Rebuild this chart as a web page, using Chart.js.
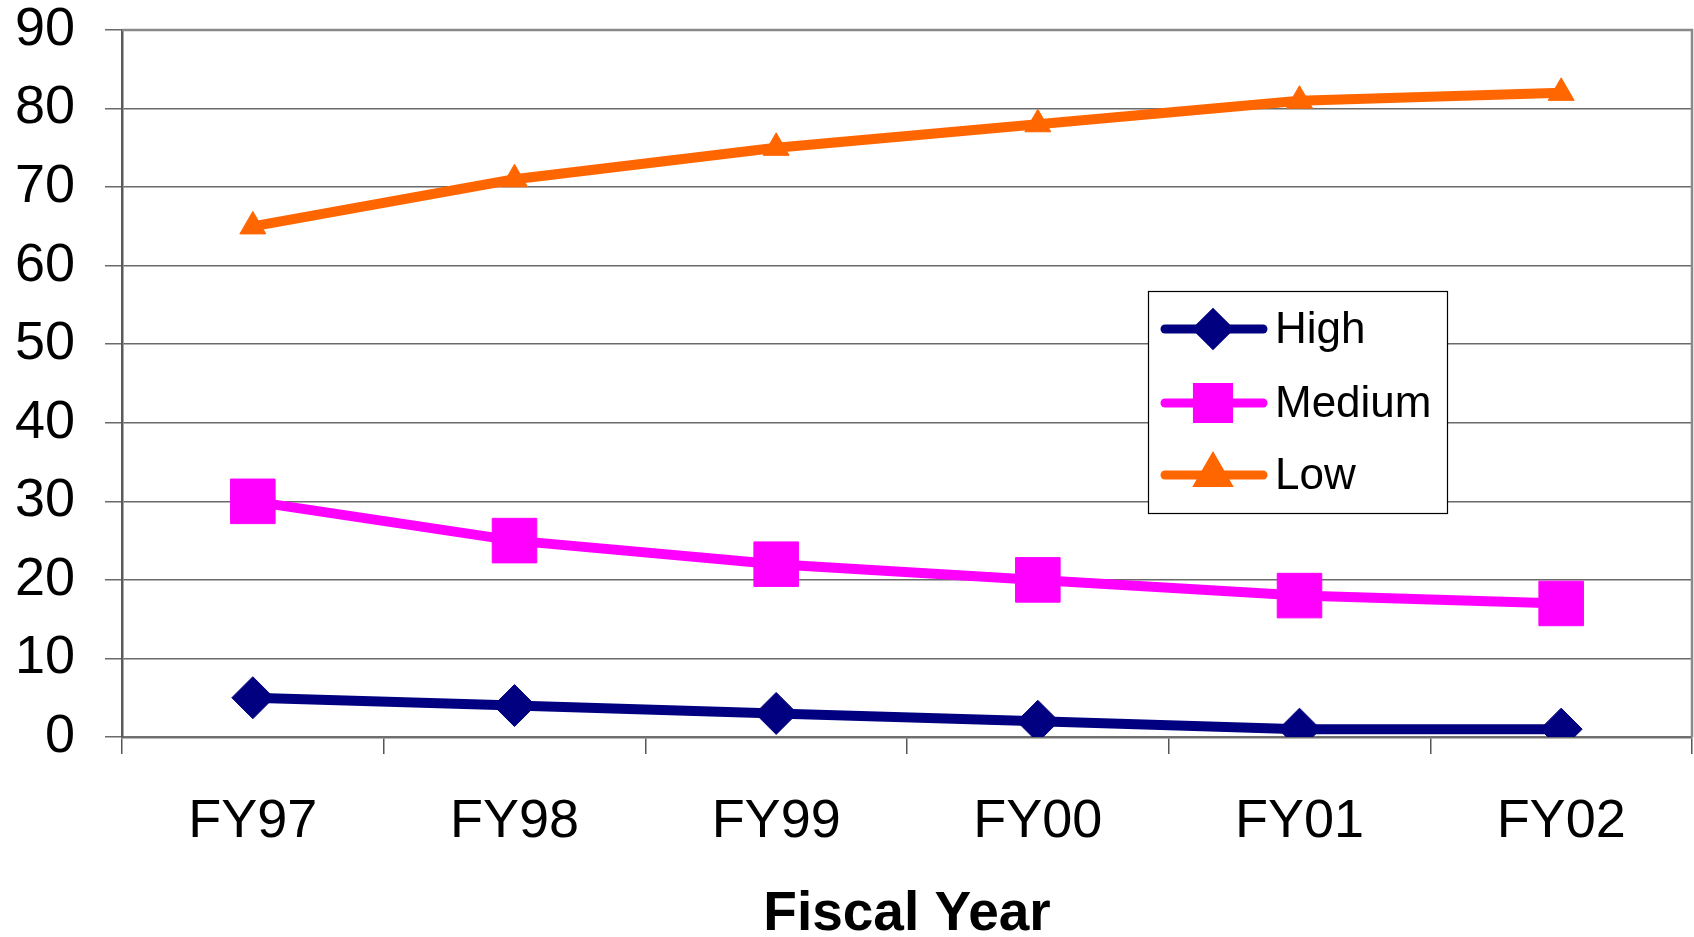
<!DOCTYPE html>
<html>
<head>
<meta charset="utf-8">
<script src="https://cdn.jsdelivr.net/npm/chart.js@4/dist/chart.umd.min.js"></script>
<style>
  html, body { margin: 0; padding: 0; background: #fff; }
  #wrap { width: 1694px; height: 937px; }
</style>
</head>
<body>
<div id="wrap"><canvas id="c" width="1694" height="937"></canvas></div>
<script>
const categories = ['FY97', 'FY98', 'FY99', 'FY00', 'FY01', 'FY02'];
const highValues = [5, 4, 3, 2, 1, 1];
const mediumValues = [30, 25, 22, 20, 18, 17];
const lowValues = [65, 71, 75, 78, 81, 82];
const seriesNames = ['High', 'Medium', 'Low'];
const yTicks = [0, 10, 20, 30, 40, 50, 60, 70, 80, 90];
const xTitle = 'Fiscal Year';

const FONT = "'Liberation Sans', Arial, sans-serif";
const legendMarkerRadius = [15, 22, 15];

const legendPlugin = {
  id: 'boxLegend',
  afterDatasetsDraw(chart) {
    const ctx = chart.ctx;
    const x0 = 1148, y0 = 291, w = 299, h = 222;
    ctx.save();
    ctx.fillStyle = '#ffffff';
    ctx.fillRect(x0, y0, w, h);
    ctx.strokeStyle = '#000000';
    ctx.lineWidth = 1.2;
    ctx.strokeRect(x0 + 0.5, y0 + 0.5, w, h);
    const rows = [329, 403, 475];
    chart.data.datasets.forEach((ds, i) => {
      const y = rows[i];
      ctx.strokeStyle = ds.borderColor;
      ctx.lineWidth = 9;
      ctx.lineCap = 'round';
      ctx.beginPath();
      ctx.moveTo(1165, y);
      ctx.lineTo(1263, y);
      ctx.stroke();
      ctx.fillStyle = ds.pointBackgroundColor;
      ctx.strokeStyle = ds.pointBackgroundColor;
      Chart.helpers.drawPoint(ctx, {
        pointStyle: ds.pointStyle,
        radius: legendMarkerRadius[i],
        rotation: 0,
        borderWidth: 1
      }, 1213, y);
      ctx.fillStyle = '#000000';
      ctx.font = '44px ' + FONT;
      ctx.textBaseline = 'middle';
      ctx.textAlign = 'left';
      ctx.fillText(ds.label, 1275, y + 2);
    });
    ctx.restore();
  }
};

const borderPlugin = {
  id: 'plotBorder',
  beforeDatasetsDraw(chart) {
    const {ctx, chartArea: a} = chart;
    ctx.save();
    ctx.strokeStyle = '#8a8a8a';
    ctx.lineWidth = 2.5;
    ctx.beginPath();
    ctx.moveTo(a.left, a.top);
    ctx.lineTo(a.right, a.top);
    ctx.lineTo(a.right, a.bottom);
    ctx.stroke();
    ctx.restore();
  }
};

new Chart(document.getElementById('c'), {
  type: 'line',
  data: {
    labels: categories,
    datasets: [
      {
        label: seriesNames[0], data: highValues,
        borderColor: '#000080', backgroundColor: '#000080',
        pointBackgroundColor: '#000080', pointBorderColor: '#000080',
        pointStyle: 'rectRot', pointRadius: 21, pointBorderWidth: 1, borderWidth: 10, tension: 0
      },
      {
        label: seriesNames[1], data: mediumValues,
        borderColor: '#ff00ff', backgroundColor: '#ff00ff',
        pointBackgroundColor: '#ff00ff', pointBorderColor: '#ff00ff',
        pointStyle: 'rect', pointRadius: 31.5, pointBorderWidth: 1, borderWidth: 10, tension: 0
      },
      {
        label: seriesNames[2], data: lowValues,
        borderColor: '#ff6600', backgroundColor: '#ff6600',
        pointBackgroundColor: '#ff6600', pointBorderColor: '#ff6600',
        pointStyle: 'triangle', pointRadius: 15, pointBorderWidth: 1, borderWidth: 10, tension: 0
      }
    ]
  },
  options: {
    responsive: false,
    animation: false,
    devicePixelRatio: 1,
    layout: { autoPadding: false, padding: { left: 0, top: 30, right: 2, bottom: 0 } },
    plugins: {
      legend: { display: false },
      tooltip: { enabled: false }
    },
    scales: {
      x: {
        offset: true,
        grid: {
          display: true, drawOnChartArea: false, drawTicks: true,
          tickLength: 17, color: '#555555', lineWidth: 1.5, offset: true
        },
        border: { display: true, color: '#6f6f6f', width: 2.5 },
        ticks: {
          color: '#000000', padding: 36, maxRotation: 0, autoSkip: false,
          font: { family: FONT, size: 54 }
        },
        title: {
          display: true, text: xTitle, color: '#000000',
          font: { family: FONT, size: 55, weight: 'bold', lineHeight: 1 },
          padding: { top: 0, bottom: -5 }
        },
        afterFit(scale) {
          scale.height = 200;
          scale.paddingLeft = 0;
          scale.paddingRight = 0;
        }
      },
      y: {
        min: 0, max: 90,
        afterBuildTicks(scale) { scale.ticks = yTicks.map(v => ({ value: v })); },
        grid: {
          color: '#6a6a6a', lineWidth: 1.5, tickLength: 17, drawTicks: true
        },
        border: { display: true, color: '#5a5a5a', width: 2.5 },
        ticks: {
          color: '#000000', padding: 30,
          font: { family: FONT, size: 54 }
        },
        afterFit(scale) {
          scale.width = 122;
          scale.paddingTop = 0;
          scale.paddingBottom = 0;
        }
      }
    }
  },
  plugins: [borderPlugin, legendPlugin]
});
</script>
</body>
</html>
